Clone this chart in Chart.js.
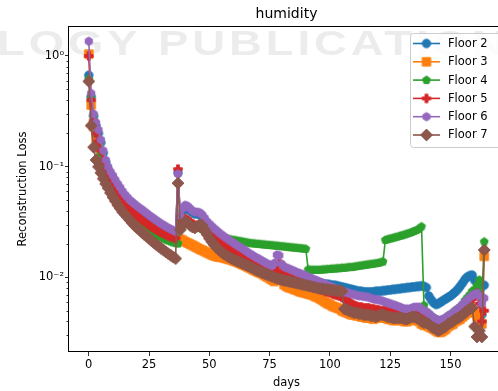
<!DOCTYPE html>
<html>
<head>
<meta charset="utf-8">
<script src="https://cdn.jsdelivr.net/npm/chart.js@4.4.0/dist/chart.umd.min.js"></script>
<style>
  html, body { margin: 0; padding: 0; background: #fff; overflow: hidden; }
  #wrap { position: relative; width: 512px; height: 391px; }
</style>
</head>
<body>
<div id="wrap"><canvas id="lossChart" width="512" height="391"></canvas></div>
<script>
// reconstruction loss per day
const floor2 = [0.67,0.43,0.285,0.235,0.2,0.165,0.133,0.11,0.095,0.086,
  0.079,0.072,0.0665,0.062,0.057,0.0533,0.0503,0.0475,0.0452,0.0437,
  0.042,0.0404,0.039,0.0375,0.0361,0.0347,0.0334,0.0323,0.0312,0.0301,
  0.0291,0.0282,0.0274,0.0266,0.0259,0.0253,0.0247,0.088,0.034,0.04,
  0.043,0.042,0.04,0.0385,0.0375,0.0375,0.037,0.0355,0.033,0.0307,
  0.0293,0.0278,0.0266,0.0254,0.0244,0.0234,0.0226,0.0218,0.021,0.0204,
  0.0197,0.019,0.0184,0.0179,0.0173,0.0167,0.0161,0.0156,0.0152,0.0147,
  0.0143,0.0139,0.0135,0.0132,0.0128,0.0125,0.0122,0.012,0.0118,0.0116,
  0.0116,0.0114,0.0112,0.011,0.0108,0.0106,0.0104,0.0102,0.0101,0.0099,
  0.0098,0.0096,0.0095,0.0093,0.0092,0.009,0.0089,0.0088,0.0087,0.0087,
  0.0086,0.0085,0.0085,0.0084,0.0083,0.0082,0.0081,0.008,0.0079,0.0078,
  0.0077,0.0076,0.0075,0.0075,0.0074,0.0074,0.0074,0.0074,0.0074,0.0075,
  0.0075,0.0075,0.0076,0.0076,0.0077,0.0077,0.0078,0.0078,0.0079,0.0079,
  0.008,0.008,0.0081,0.0081,0.0082,0.0082,0.0083,0.0083,0.0084,0.0083,
  0.0081,0.0068,0.0063,0.0059,0.0057,0.0058,0.006,0.0062,0.0064,0.0066,
  0.0068,0.0071,0.0074,0.0078,0.0083,0.0089,0.0096,0.0101,0.0104,0.0105,
  0.0094,0.009,0.0088,0.0046,0.0085];

const floor3 = [1.04,0.36,0.23,0.18,0.15,0.125,0.105,0.09,0.079,0.07,
  0.062,0.056,0.051,0.047,0.043,0.041,0.0388,0.0368,0.035,0.0334,
  0.032,0.031,0.0301,0.0293,0.0286,0.0279,0.0273,0.0267,0.0262,0.0257,
  0.0252,0.0248,0.0244,0.024,0.0236,0.0233,0.023,0.0226,0.0221,0.0216,
  0.021,0.0205,0.02,0.0195,0.019,0.0185,0.018,0.0176,0.0172,0.0168,
  0.0164,0.016,0.0157,0.0154,0.0153,0.0152,0.015,0.0148,0.0146,0.0144,
  0.0141,0.0139,0.0136,0.0133,0.013,0.0127,0.0124,0.0121,0.0118,0.0115,
  0.0112,0.011,0.0107,0.0104,0.0101,0.0098,0.0095,0.0092,0.0118,0.013,
  0.0122,0.0086,0.0083,0.0081,0.008,0.0078,0.0077,0.0075,0.0074,0.0073,
  0.0072,0.0071,0.007,0.0069,0.0067,0.0066,0.0064,0.0062,0.006,0.0058,
  0.0057,0.0055,0.0054,0.0053,0.0052,0.005,0.0049,0.0048,0.0047,0.0046,
  0.0046,0.0045,0.0045,0.0044,0.0044,0.0043,0.0043,0.0043,0.0042,0.0043,
  0.0044,0.0044,0.0043,0.0043,0.0042,0.0042,0.0041,0.0041,0.0041,0.0041,
  0.0041,0.004,0.004,0.0041,0.0042,0.0042,0.0041,0.004,0.0038,0.0037,
  0.0037,0.0036,0.0035,0.0034,0.0033,0.0032,0.0032,0.0033,0.0034,0.0036,
  0.0037,0.0038,0.004,0.0041,0.0042,0.0044,0.0046,0.0048,0.005,0.005,
  0.0048,0.0044,0.0046,0.0038,0.0155];

const floor4 = [0.62,0.42,0.29,0.2,0.16,0.13,0.11,0.094,0.082,0.072,
  0.064,0.057,0.052,0.047,0.043,0.039,0.036,0.0338,0.0322,0.031,
  0.0302,0.0295,0.0288,0.028,0.0272,0.0264,0.0256,0.0249,0.0242,0.0235,
  0.0229,0.0224,0.0219,0.0215,0.0211,0.0207,0.0204,0.0202,0.03,0.032,
  0.033,0.032,0.031,0.03,0.029,0.0285,0.028,0.0272,0.0265,0.0258,
  0.025,0.0244,0.0238,0.0234,0.023,0.0228,0.0226,0.0224,0.0222,0.022,
  0.0218,0.0216,0.0214,0.0212,0.021,0.0208,0.0206,0.0204,0.0203,0.0202,
  0.0201,0.02,0.0199,0.0198,0.0197,0.0196,0.0195,0.0194,0.0193,0.0192,
  0.0191,0.019,0.0189,0.0188,0.0187,0.0186,0.0185,0.0184,0.0183,0.0182,
  0.0181,0.0118,0.0117,0.0117,0.0117,0.0117,0.0117,0.0118,0.0118,0.0119,
  0.0119,0.012,0.012,0.0121,0.0121,0.0122,0.0122,0.0123,0.0124,0.0124,
  0.0125,0.0126,0.0127,0.0128,0.0129,0.013,0.0131,0.0132,0.0133,0.0134,
  0.0135,0.0137,0.0139,0.0218,0.0221,0.0224,0.0227,0.023,0.0233,0.0237,
  0.024,0.0244,0.0248,0.0252,0.0257,0.0262,0.0268,0.0275,0.0288,0.0056,
  0.0049,0.0047,0.0045,0.0043,0.0042,0.0041,0.0041,0.0042,0.0043,0.0045,
  0.0046,0.0048,0.005,0.0052,0.0054,0.0057,0.0062,0.0066,0.007,0.0075,
  0.0078,0.0085,0.0095,0.0062,0.021];

const floor5 = [1.0,0.4,0.26,0.2,0.17,0.14,0.115,0.098,0.085,0.075,
  0.066,0.06,0.056,0.053,0.05,0.047,0.0445,0.042,0.04,0.038,
  0.0362,0.0347,0.0333,0.032,0.0308,0.0297,0.0287,0.0278,0.027,0.0262,
  0.0255,0.0249,0.0243,0.0238,0.0234,0.023,0.0226,0.095,0.03,0.033,
  0.034,0.033,0.0318,0.0305,0.0295,0.029,0.0285,0.0278,0.027,0.026,
  0.025,0.024,0.023,0.0221,0.0212,0.0204,0.0197,0.019,0.0184,0.0178,
  0.0173,0.0168,0.0163,0.0158,0.0153,0.0148,0.0144,0.014,0.0136,0.0132,
  0.0129,0.0126,0.0123,0.0121,0.0119,0.0117,0.0115,0.0113,0.0115,0.0135,
  0.0112,0.0109,0.0107,0.0105,0.0103,0.0101,0.0099,0.0097,0.0095,0.0093,
  0.0091,0.0089,0.0087,0.0085,0.0083,0.0081,0.0079,0.0077,0.0075,0.0074,
  0.0073,0.0071,0.007,0.0069,0.0068,0.0066,0.0064,0.0062,0.006,0.0058,
  0.0056,0.0055,0.0054,0.0054,0.0053,0.0053,0.0053,0.0052,0.0052,0.0051,
  0.0051,0.005,0.005,0.005,0.0049,0.0049,0.0049,0.0049,0.0048,0.0048,
  0.0048,0.0048,0.0047,0.0047,0.0047,0.0047,0.0047,0.0046,0.0045,0.0044,
  0.0043,0.0041,0.004,0.0039,0.0038,0.0037,0.0037,0.0038,0.0039,0.004,
  0.0042,0.0043,0.0045,0.0047,0.0049,0.0051,0.0054,0.0057,0.006,0.0064,
  0.0068,0.0072,0.0058,0.004,0.005];

const floor6 = [1.36,0.46,0.3,0.25,0.215,0.175,0.14,0.115,0.1,0.09,
  0.083,0.076,0.07,0.065,0.06,0.056,0.053,0.05,0.048,0.046,
  0.0442,0.0425,0.041,0.0395,0.038,0.0365,0.0352,0.034,0.0328,0.0317,
  0.0306,0.0297,0.0288,0.028,0.0273,0.0266,0.026,0.086,0.036,0.042,
  0.045,0.044,0.042,0.04,0.039,0.039,0.0385,0.037,0.0345,0.032,
  0.0305,0.029,0.0277,0.0265,0.0254,0.0244,0.0235,0.0227,0.0219,0.0212,
  0.0205,0.0198,0.0192,0.0186,0.018,0.0174,0.0168,0.0163,0.0158,0.0153,
  0.0149,0.0145,0.0141,0.0137,0.0133,0.013,0.0127,0.0135,0.016,0.0158,
  0.0132,0.0125,0.0122,0.012,0.0117,0.0115,0.0112,0.011,0.0108,0.0106,
  0.0104,0.0101,0.0099,0.0097,0.0095,0.0093,0.0091,0.0089,0.0087,0.0085,
  0.0083,0.0082,0.008,0.0078,0.0077,0.0075,0.0074,0.0073,0.0072,0.0071,
  0.007,0.0069,0.0068,0.0068,0.0067,0.0067,0.0066,0.0065,0.0064,0.0063,
  0.0063,0.0062,0.0061,0.006,0.0059,0.0058,0.0057,0.0056,0.0055,0.0054,
  0.0053,0.0052,0.0052,0.0052,0.0053,0.0054,0.0054,0.0054,0.0052,0.005,
  0.0049,0.0047,0.0045,0.0043,0.0042,0.0041,0.0041,0.0042,0.0043,0.0045,
  0.0046,0.0048,0.005,0.0052,0.0054,0.0057,0.006,0.0063,0.0066,0.0069,
  0.007,0.0072,0.0068,0.0058,0.0065];

const floor7 = [0.59,0.235,0.15,0.115,0.1,0.088,0.078,0.07,0.064,0.058,
  0.053,0.049,0.045,0.042,0.039,0.037,0.035,0.033,0.031,0.0295,
  0.028,0.0268,0.0256,0.0245,0.0235,0.0225,0.0215,0.0206,0.0198,0.019,
  0.0183,0.0176,0.017,0.0164,0.0158,0.0153,0.0148,0.071,0.027,0.03,
  0.032,0.031,0.0295,0.0285,0.028,0.029,0.03,0.0295,0.027,0.0245,
  0.0225,0.021,0.0197,0.0186,0.0177,0.0169,0.0163,0.0158,0.0153,0.0149,
  0.0145,0.0142,0.0139,0.0136,0.0133,0.013,0.0127,0.0124,0.0121,0.0118,
  0.0115,0.0113,0.011,0.0108,0.0106,0.0104,0.0102,0.01,0.0098,0.0097,
  0.0095,0.0094,0.0093,0.0092,0.0091,0.009,0.0089,0.0088,0.0087,0.0086,
  0.0085,0.0084,0.0083,0.0082,0.0081,0.008,0.0079,0.0079,0.0078,0.0078,
  0.0077,0.0077,0.0076,0.0076,0.0075,0.0075,0.0052,0.0051,0.005,0.0049,
  0.0048,0.0048,0.0047,0.0047,0.0046,0.0046,0.0046,0.0045,0.0045,0.0044,
  0.0045,0.0046,0.0046,0.0045,0.0044,0.0044,0.0043,0.0043,0.0043,0.0043,
  0.0043,0.0042,0.0042,0.0043,0.0044,0.0044,0.0043,0.0042,0.004,0.0039,
  0.0039,0.0038,0.0036,0.0035,0.0034,0.0033,0.0034,0.0035,0.0036,0.0038,
  0.0039,0.004,0.0042,0.0043,0.0044,0.0046,0.0048,0.005,0.0052,0.0053,
  0.0036,0.0029,0.0033,0.0029,0.0177];

const floorNames = ['Floor 2', 'Floor 3', 'Floor 4', 'Floor 5', 'Floor 6', 'Floor 7'];
const floorColors = ['#1f77b4', '#ff7f0e', '#2ca02c', '#d62728', '#9467bd', '#8c564b'];
const floorMarkers = ['o', 's', 'p', 'P', 'h', 'D'];
const floorLoss = [floor2, floor3, floor4, floor5, floor6, floor7];
const days = floor2.map((_, i) => i);

const xTicks = [0, 25, 50, 75, 100, 125, 150];
const yMajor = [0.01, 0.1, 1];
const yMajorLabels = ['10\u207B\u00B2', '10\u207B\u00B9', '10\u2070'];
const yMinor = [];
[0.001, 0.01, 0.1].forEach(dec => {
  for (let m = 2; m <= 9; m++) {
    const v = +(m * dec).toPrecision(3);
    if (v > 0.00212) yMinor.push(v);
  }
});

const FONT = '"DejaVu Sans", sans-serif';

// matplotlib-like marker glyphs
function makeMarker(shape, color) {
  const c = document.createElement('canvas');
  c.width = 16; c.height = 16;
  const g = c.getContext('2d');
  g.translate(8, 8);
  g.fillStyle = color; g.strokeStyle = color; g.lineWidth = 1;
  const s = 8.4, r = s / 2;
  g.beginPath();
  if (shape === 'o') {
    g.arc(0, 0, r, 0, Math.PI * 2);
  } else if (shape === 's') {
    g.rect(-r, -r, s, s);
  } else if (shape === 'D') {
    const d = r * Math.SQRT2;
    g.moveTo(0, -d); g.lineTo(d, 0); g.lineTo(0, d); g.lineTo(-d, 0); g.closePath();
  } else if (shape === 'p' || shape === 'h') {
    const n = shape === 'p' ? 5 : 6;
    for (let k = 0; k < n; k++) {
      const a = -Math.PI / 2 + k * 2 * Math.PI / n;
      if (k) g.lineTo(r * Math.cos(a), r * Math.sin(a)); else g.moveTo(r * Math.cos(a), r * Math.sin(a));
    }
    g.closePath();
  } else if (shape === 'P') {
    const a = r, b = s / 6;
    const pts = [[-b,-a],[b,-a],[b,-b],[a,-b],[a,b],[b,b],[b,a],[-b,a],[-b,b],[-a,b],[-a,-b],[-b,-b]];
    pts.forEach((p, k) => k ? g.lineTo(p[0], p[1]) : g.moveTo(p[0], p[1]));
    g.closePath();
  }
  g.fill(); g.stroke();
  return c;
}
const markerImgs = floorMarkers.map((m, i) => makeMarker(m, floorColors[i]));

const datasets = floorLoss.map((vals, i) => ({
  label: floorNames[i],
  data: vals.map((v, k) => ({ x: days[k], y: v })),
  showLine: true,
  borderColor: floorColors[i],
  backgroundColor: floorColors[i],
  borderWidth: 1.6,
  pointStyle: markerImgs[i],
  pointRadius: 5,
  pointHoverRadius: 5,
  tension: 0,
  order: floorNames.length - i,
}));

// background watermark text
const watermark = {
  id: 'watermark',
  beforeDraw(chart) {
    const ctx = chart.ctx;
    ctx.save();
    ctx.fillStyle = 'rgba(0,0,0,0.075)';
    ctx.font = 'bold 35px "Liberation Sans", sans-serif';
    ctx.textBaseline = 'alphabetic';
    ctx.textAlign = 'left';
    if ('letterSpacing' in ctx) ctx.letterSpacing = '3px';
    ctx.translate(-3, 55);
    ctx.scale(1.3, 1);
    ctx.fillText('LOGY PUBLICATIONS', 0, 0);
    ctx.restore();
  }
};

// frame, minor ticks, titles, legend
const decorations = {
  id: 'decorations',
  afterDraw(chart) {
    const ctx = chart.ctx;
    const ca = chart.chartArea;
    const ys = chart.scales.y;
    ctx.save();
    ctx.strokeStyle = '#000';
    ctx.lineWidth = 1;
    ctx.strokeRect(Math.round(ca.left) - 0.5, Math.round(ca.top) + 0.5,
      Math.round(ca.right - ca.left) + 1, Math.round(ca.bottom - ca.top) - 1);

    ctx.lineWidth = 0.8;
    yMinor.forEach(v => {
      const py = Math.round(ys.getPixelForValue(v)) + 0.5;
      ctx.beginPath();
      ctx.moveTo(ca.left - 2.5, py);
      ctx.lineTo(ca.left, py);
      ctx.stroke();
    });

    ctx.fillStyle = '#000';
    const cx = (ca.left + ca.right) / 2;
    ctx.textAlign = 'center';
    ctx.textBaseline = 'alphabetic';
    ctx.font = '14px ' + FONT;
    ctx.fillText('humidity', cx, 18);
    ctx.font = '11.5px ' + FONT;
    ctx.fillText('days', cx, 385.5);
    ctx.save();
    ctx.translate(26, (ca.top + ca.bottom) / 2);
    ctx.rotate(-Math.PI / 2);
    ctx.fillText('Reconstruction Loss', 0, 0);
    ctx.restore();

    // legend box
    const lx = 410, ly = 33, lw = 100, lh = 114;
    ctx.beginPath();
    ctx.roundRect(lx + 0.5, ly + 0.5, lw, lh, 3);
    ctx.fillStyle = 'rgba(255,255,255,0.8)';
    ctx.fill();
    ctx.strokeStyle = '#cccccc';
    ctx.lineWidth = 1;
    ctx.stroke();
    ctx.font = '11.5px ' + FONT;
    ctx.textAlign = 'left';
    ctx.textBaseline = 'middle';
    floorNames.forEach((name, i) => {
      const ry = 43.5 + i * 18.3;
      ctx.strokeStyle = floorColors[i];
      ctx.lineWidth = 1.6;
      ctx.beginPath();
      ctx.moveTo(413, ry);
      ctx.lineTo(440, ry);
      ctx.stroke();
      ctx.drawImage(markerImgs[i], 426.5 - 8, ry - 8);
      ctx.fillStyle = '#000';
      ctx.fillText(name, 448, ry + 0.5);
    });
    ctx.restore();
  }
};

new Chart(document.getElementById('lossChart'), {
  type: 'scatter',
  data: { datasets },
  options: {
    responsive: false,
    animation: false,
    events: [],
    layout: { padding: { left: 0, right: 8, top: 26, bottom: 0 } },
    plugins: {
      legend: { display: false },
      title: { display: false },
      tooltip: { enabled: false },
    },
    scales: {
      x: {
        type: 'linear',
        min: -8.2,
        max: 172.2,
        afterFit: s => { s.height = 39; },
        afterBuildTicks: s => { s.ticks = xTicks.map(v => ({ value: v })); },
        border: { display: false },
        grid: { drawOnChartArea: false, drawTicks: true, tickLength: 4, tickColor: '#000', tickWidth: 0.8 },
        ticks: {
          autoSkip: false, maxRotation: 0, padding: 2, color: '#000',
          font: { family: FONT, size: 11.5 },
          callback: v => String(v),
        },
      },
      y: {
        type: 'logarithmic',
        min: 0.00212,
        max: 1.866,
        afterFit: s => { s.width = 69; },
        afterBuildTicks: s => {
          s.ticks = yMajor.concat(yMinor).sort((a, b) => a - b).map(v => ({ value: v }));
        },
        border: { display: false },
        grid: {
          drawOnChartArea: false, drawTicks: true, tickLength: 4, tickWidth: 0.8,
          tickColor: c => (c.tick && yMajor.includes(c.tick.value)) ? '#000' : 'rgba(0,0,0,0)',
        },
        ticks: {
          autoSkip: false, padding: 1, color: '#000',
          font: { family: FONT, size: 11.5 },
          callback: v => {
            const k = yMajor.indexOf(v);
            return k >= 0 ? yMajorLabels[k] : '';
          },
        },
      },
    },
  },
  plugins: [watermark, decorations],
});
</script>
</body>
</html>
